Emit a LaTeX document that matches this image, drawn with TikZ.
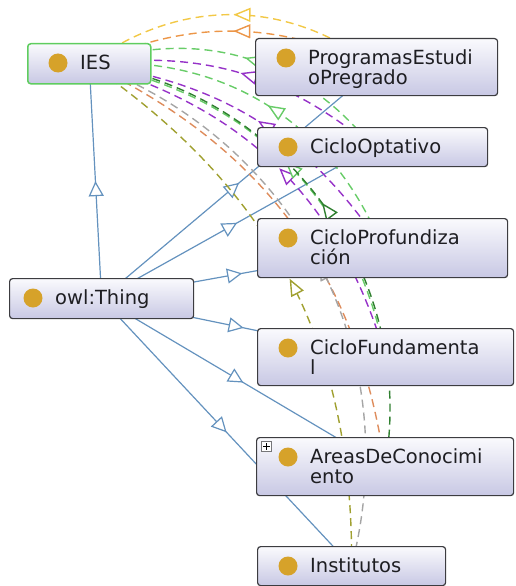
\documentclass[tikz,border=0pt]{standalone}
\usepackage{fontspec}
\setmainfont{DejaVu Sans}
\usetikzlibrary{arrows.meta,decorations.markings}
\pgfdeclarelayer{edges}
\pgfsetlayers{edges,main}

\definecolor{boxline}{RGB}{60,60,64}
\definecolor{boxtop}{RGB}{250,250,253}
\definecolor{boxbottom}{RGB}{200,200,228}
\definecolor{iesline}{RGB}{95,205,95}
\definecolor{dotfill}{RGB}{214,162,42}
\definecolor{isa}{RGB}{100,146,190}
\definecolor{relyellow}{RGB}{242,200,70}
\definecolor{relorange}{RGB}{236,150,72}
\definecolor{reltan}{RGB}{222,140,92}
\definecolor{relgreen}{RGB}{104,204,104}
\definecolor{reldkgreen}{RGB}{48,128,48}
\definecolor{relpurple}{RGB}{150,50,200}
\definecolor{relolive}{RGB}{160,160,48}
\definecolor{relgray}{RGB}{165,165,165}

\tikzset{
  clsbox/.style={draw=boxline, line width=1.2pt, rounded corners=3pt,
    top color=boxtop, bottom color=boxbottom, anchor=north west, inner sep=0pt},
  iesbox/.style={clsbox, draw=iesline, line width=1.5pt},
  clsdot/.style={circle, fill=dotfill, inner sep=0pt, minimum size=19pt},
  clstext/.style={anchor=north west, inner sep=0pt, align=left,
    font=\fontsize{19.5}{20}\selectfont, text={rgb,255:red,30;green,30;blue,34}},
  expander/.style={draw=boxline!70, fill=white, line width=0.6pt, inner sep=0pt, minimum size=10pt},
  subcls/.style={draw=isa, line width=1.2pt, postaction={decorate},
    decoration={markings, mark=at position 0.5 with
      {\arrow{Triangle[length=15pt,width=15pt,fill=white]}}}},
  rel/.style={draw=#1, line width=1.4pt, dash pattern=on 8pt off 5pt,
    postaction={decorate},
    decoration={markings, mark=at position 0.5 with
      {\arrowreversed[solid]{Triangle[length=17pt,width=14pt,fill=white]}}}},
}

% class box: [style]{name}{left}{top}{width}{height}{dot inset}{label}
\newcommand\owlclass[8][clsbox]{%
  \node[#1, minimum width=#5pt, minimum height=#6pt] (#2) at (#3,#4) {};
  \node[clsdot] (#2-dot) at ([xshift=#7pt, yshift=-20pt]#2.north west) {};
  \node[clstext] (#2-label) at ([xshift=#7pt+22pt, yshift=-11.5pt]#2.north west) {#8};
}

\begin{document}
\begin{tikzpicture}[x=1pt,y=-1pt]
\useasboundingbox (0,0) rectangle (515,586);

% classes
\owlclass[iesbox]{ies}{27}{43}{123}{40}{31}{IES}
\owlclass{prog}{255}{38}{242}{57}{31}{ProgramasEstudi\\oPregrado}
\owlclass{opt}{257}{127}{230}{39}{31}{CicloOptativo}
\owlclass{prof}{257}{218}{250}{59}{31}{CicloProfundiza\\ción}
\owlclass{thing}{9}{278}{184}{40}{24}{owl:Thing}
\owlclass{fund}{257}{328}{256}{57}{31}{CicloFundamenta\\l}
\owlclass{areas}{256}{437}{257}{58}{32}{AreasDeConocimi\\ento}
\owlclass{inst}{257}{546}{188}{39}{31}{Institutos}

% expand marker on AreasDeConocimiento
\node[expander] (areas-expand) at ([xshift=10.5pt,yshift=-9.5pt]areas.north west) {};
\draw[line width=0.9pt] ([xshift=-3.2pt]areas-expand.center) -- ([xshift=3.2pt]areas-expand.center)
  ([yshift=-3.2pt]areas-expand.center) -- ([yshift=3.2pt]areas-expand.center);

\begin{pgfonlayer}{edges}
  % subclass links from owl:Thing
  \foreach \t in {ies,prog,opt,prof,fund,areas,inst}
    \draw[subcls] (thing.center) -- (\t.center);

  % object property links from IES
  \draw[rel=relyellow]  (ies.center) to[bend left=37] (prog.center);
  \draw[rel=relorange]  (ies.center) to[bend left=24] (prog.center);
  \draw[rel=relgreen]   (ies.center) to[bend left=35] (opt.center);
  \draw[rel=relpurple]  (ies.center) to[bend left=23] (opt.center);
  \draw[rel=relgreen]   (ies.center) to[bend left=36] (prof.center);
  \draw[rel=relpurple]  (ies.center) to[bend left=24] (prof.center);
  \draw[rel=relpurple]  (ies.center) to[bend left=29] (fund.center);
  \draw[rel=relgreen]   (ies.center) to[bend left=34] (fund.center);
  \draw[rel=reldkgreen] (ies.center) to[bend left=46] (areas.center);
  \draw[rel=reltan]     (ies.center) to[bend left=28] (areas.center);
  \draw[rel=relolive]   (ies.center) to[bend left=28] (inst.center);
  \draw[rel=relgray]    (ies.center) to[bend left=42] (inst.center);
\end{pgfonlayer}
\end{tikzpicture}
\end{document}
